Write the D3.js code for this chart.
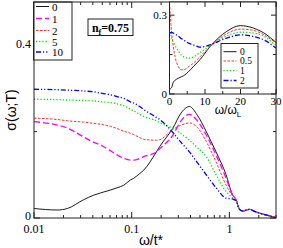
<!DOCTYPE html>
<html><head><meta charset="utf-8">
<script src="https://cdn.jsdelivr.net/npm/d3@7"></script>
<style>body{margin:0;background:#fff}svg{display:block}</style>
</head><body>
<script>
// ---- main plot data ----
const omega = [0.01,0.0173,0.022,0.032,0.041,0.048,0.061,0.071,0.083,0.097,0.105,0.121,0.133,0.179,0.193,0.264,0.32,0.39,0.47,0.58,0.73,0.925,1.07,1.17,1.26,1.37,1.6,1.87,2.37,3];
const sig0  = [0.022,0.0185,0.022,0.042,0.053,0.058,0.065,0.070,0.076,0.088,0.092,0.103,0.111,0.153,0.165,0.208,0.243,0.258,0.238,0.2,0.153,0.1,0.055,0.042,0.021,0.016,0.020,0.014,0.007,0.001];
const sig1  = [0.223,0.215,0.208,0.188,0.175,0.169,0.155,0.146,0.138,0.134,0.134,0.138,0.142,0.153,0.16,0.192,0.225,0.24,0.225,0.192,0.146,0.092,0.055,0.042,0.021,0.016,0.020,0.014,0.007,0.001];
const sig2  = [0.231,0.228,0.225,0.222,0.219,0.217,0.212,0.207,0.201,0.196,0.193,0.186,0.182,0.18,0.181,0.205,0.215,0.22,0.21,0.177,0.13,0.076,0.052,0.042,0.021,0.016,0.020,0.014,0.007,0.001];
const sig5  = [0.275,0.274,0.273,0.272,0.271,0.269,0.267,0.264,0.26,0.252,0.248,0.24,0.235,0.225,0.221,0.207,0.195,0.18,0.163,0.142,0.1,0.061,0.048,0.042,0.021,0.016,0.020,0.014,0.007,0.001];
const sig10 = [0.298,0.297,0.296,0.294,0.292,0.289,0.285,0.281,0.277,0.269,0.266,0.258,0.251,0.233,0.228,0.198,0.175,0.153,0.128,0.1,0.07,0.046,0.044,0.040,0.021,0.016,0.020,0.014,0.007,0.001];
const mainLabels = ["0","1","2","5","10"];
const xTickLabels = ["0.01","0.1","1"];
const yTickLabels = ["0","0.4"];

// ---- inset data ----
const wL = [0,0.6,1.07,1.55,2.5,3.4,3.9,4.8,5.3,6.7,7.7,8.6,11.4,16.1,19.9,23.6,27.4,29.7,30];
const in0  = [0.018,0.025,0.045,0.052,0.06,0.066,0.069,0.078,0.084,0.104,0.118,0.131,0.18,0.238,0.26,0.251,0.225,0.2,0.197];
const in05 = [0.346,0.232,0.18,0.142,0.104,0.092,0.092,0.098,0.103,0.117,0.13,0.142,0.18,0.229,0.247,0.242,0.219,0.196,0.193];
const in1  = [0.225,0.212,0.198,0.185,0.163,0.147,0.142,0.137,0.136,0.14,0.149,0.158,0.183,0.221,0.235,0.232,0.213,0.187,0.184];
const in2  = [0.232,0.234,0.232,0.228,0.22,0.21,0.206,0.198,0.194,0.187,0.182,0.178,0.187,0.213,0.225,0.219,0.2,0.178,0.175];
const insetLabels = ["0","0.5","1","2"];

const W=283,H=248;
const svg=d3.select("body").append("svg").attr("width",W).attr("height",H);
const serif="'Liberation Serif','Times New Roman',serif";
const sans="'Liberation Sans',Arial,sans-serif";

const styles=[
  {c:"#000000",d:null,w:0.9},
  {c:"#ff00ff",d:"6,3",w:1.3},
  {c:"#ff3030",d:"2.5,1.5",w:1},
  {c:"#00e000",d:"1.2,2",w:1.3},
  {c:"#0000ff",d:"5,2,1.2,2,1.2,2",w:1.3}
];
const inStyles=[styles[0],{c:"#ff3030",d:"2.5,1.5",w:1},styles[3],{c:"#0000ff",d:"5,2,1.2,2",w:1.3}];

// main scales
const x=d3.scaleLog().domain([0.01,3]).range([34,276]);
const y=d3.scaleLinear().domain([0,0.5]).range([218,2]);

const main=svg.append("g");
const line=d3.line().x((d,i)=>x(omega[i])).y(d=>y(d)).curve(d3.curveMonotoneX);
[sig0,sig1,sig2,sig5,sig10].forEach((s,k)=>{
  main.append("path").attr("d",line(s)).attr("fill","none")
    .attr("stroke",styles[k].c).attr("stroke-width",styles[k].w)
    .attr("stroke-dasharray",styles[k].d);
});

// main ticks
const tk=main.append("g").attr("stroke","#222").attr("stroke-width",1);
const majX=[0.01,0.1,1];
const minX=[];
[0.01,0.1,1].forEach(b=>{for(let m=2;m<=9;m++){const v=b*m;if(v<=3)minX.push(v);}});
majX.forEach(v=>{
  tk.append("line").attr("x1",x(v)).attr("x2",x(v)).attr("y1",218).attr("y2",212);
  tk.append("line").attr("x1",x(v)).attr("x2",x(v)).attr("y1",2).attr("y2",8);
});
minX.forEach(v=>{
  tk.append("line").attr("x1",x(v)).attr("x2",x(v)).attr("y1",218).attr("y2",215);
  tk.append("line").attr("x1",x(v)).attr("x2",x(v)).attr("y1",2).attr("y2",5);
});
[0,0.4].forEach(v=>{
  tk.append("line").attr("x1",34).attr("x2",40).attr("y1",y(v)).attr("y2",y(v));
  tk.append("line").attr("x1",276).attr("x2",270).attr("y1",y(v)).attr("y2",y(v));
});
[0.2].forEach(v=>{
  tk.append("line").attr("x1",34).attr("x2",37).attr("y1",y(v)).attr("y2",y(v));
  tk.append("line").attr("x1",276).attr("x2",273).attr("y1",y(v)).attr("y2",y(v));
});
majX.forEach((v,i)=>{
  main.append("text").attr("x",x(v)).attr("y",233).attr("text-anchor","middle")
   .attr("font-family",serif).attr("font-size",12).text(xTickLabels[i]);
});
[0,0.4].forEach((v,i)=>{
  main.append("text").attr("x",31).attr("y",y(v)+(v===0?1.5:3)).attr("text-anchor","end")
   .attr("font-family",serif).attr("font-size",12).text(yTickLabels[i]);
});
main.append("text").attr("x",151).attr("y",245).attr("text-anchor","middle")
  .attr("font-family",sans).attr("font-size",14).text("ω/t*");
main.append("text").attr("transform","translate(16,110) rotate(-90)").attr("text-anchor","middle")
  .attr("font-family",sans).attr("font-size",14).text("σ(ω;T)");

// main legend
const lg=main.append("g");
lg.append("rect").attr("x",33.5).attr("y",2).attr("width",38.5).attr("height",58)
  .attr("fill","#fff").attr("stroke","#222").attr("stroke-width",1);
const ly=[6.5,18.5,30.5,41.5,52];
mainLabels.forEach((t,k)=>{
  lg.append("line").attr("x1",36).attr("x2",49).attr("y1",ly[k]).attr("y2",ly[k])
    .attr("stroke",styles[k].c).attr("stroke-width",styles[k].w).attr("stroke-dasharray",styles[k].d);
  lg.append("text").attr("x",52).attr("y",ly[k]+4).attr("font-family",serif).attr("font-size",11).text(t);
});

// main frame
main.append("rect").attr("x",34).attr("y",2).attr("width",242).attr("height",216)
  .attr("fill","none").attr("stroke","#222").attr("stroke-width",1);

// n_f box
const nb=main.append("g");
nb.append("rect").attr("x",88).attr("y",19).attr("width",45).attr("height",16.5)
  .attr("fill","#fff").attr("stroke","#222").attr("stroke-width",1);
const nt=nb.append("text").attr("x",110.5).attr("y",31.5).attr("text-anchor","middle")
  .attr("font-family",serif).attr("font-size",12).attr("font-weight","bold");
nt.append("tspan").text("n");
nt.append("tspan").attr("font-size",8).attr("dy",3).text("f");
nt.append("tspan").attr("dy",-3).text("=0.75");

// ---- inset ----
const ix=d3.scaleLinear().domain([0,30]).range([169.5,276]);
const iy=d3.scaleLinear().domain([0,0.35]).range([94,2]);
const ins=svg.append("g");
ins.append("rect").attr("x",169.5).attr("y",2).attr("width",106.5).attr("height",92).attr("fill","#fff");
const iline=d3.line().x((d,i)=>ix(wL[i])).y(d=>iy(d)).curve(d3.curveMonotoneX);
[in0,in05,in1,in2].forEach((s,k)=>{
  ins.append("path").attr("d",iline(s)).attr("fill","none")
    .attr("stroke",inStyles[k].c).attr("stroke-width",inStyles[k].w)
    .attr("stroke-dasharray",inStyles[k].d);
});
const itk=ins.append("g").attr("stroke","#222").attr("stroke-width",1);
[0,5,10,15,20,25,30].forEach(v=>{
  const L=(v%10===0)?5:3;
  itk.append("line").attr("x1",ix(v)).attr("x2",ix(v)).attr("y1",94).attr("y2",94-L);
  itk.append("line").attr("x1",ix(v)).attr("x2",ix(v)).attr("y1",2).attr("y2",2+L);
});
[0,0.15,0.3].forEach(v=>{
  const L=(v===0.15)?3:5;
  itk.append("line").attr("x1",169.5).attr("x2",169.5+L).attr("y1",iy(v)).attr("y2",iy(v));
  itk.append("line").attr("x1",276).attr("x2",276-L).attr("y1",iy(v)).attr("y2",iy(v));
});
ins.append("rect").attr("x",169.5).attr("y",2).attr("width",106.5).attr("height",92)
  .attr("fill","none").attr("stroke","#222").attr("stroke-width",1);
const insXT=["0","10","20","30"], insYT=["0","0.3"];
[0,10,20,30].forEach((v,i)=>{
  ins.append("text").attr("x",ix(v)).attr("y",104.5).attr("text-anchor","middle")
   .attr("font-family",serif).attr("font-size",11).text(insXT[i]);
});
[0,0.3].forEach((v,i)=>{
  ins.append("text").attr("x",167).attr("y",iy(v)+4).attr("text-anchor","end")
   .attr("font-family",serif).attr("font-size",11).text(insYT[i]);
});
const ixl=ins.append("text").attr("x",228).attr("y",114).attr("text-anchor","middle")
  .attr("font-family",sans).attr("font-size",12);
ixl.append("tspan").text("ω/ω");
ixl.append("tspan").attr("font-size",8).attr("dy",3).text("L");

// inset legend
const il=ins.append("g");
il.append("rect").attr("x",221).attr("y",43.5).attr("width",37).attr("height",44.5)
  .attr("fill","#fff").attr("stroke","#222").attr("stroke-width",1);
const ily=[51.7,61,70.7,80.5];
insetLabels.forEach((t,k)=>{
  il.append("line").attr("x1",223.5).attr("x2",236.5).attr("y1",ily[k]).attr("y2",ily[k])
    .attr("stroke",inStyles[k].c).attr("stroke-width",inStyles[k].w).attr("stroke-dasharray",inStyles[k].d);
  il.append("text").attr("x",240).attr("y",ily[k]+3.2).attr("font-family",serif).attr("font-size",9.5).text(t);
});
</script>
</body></html>
